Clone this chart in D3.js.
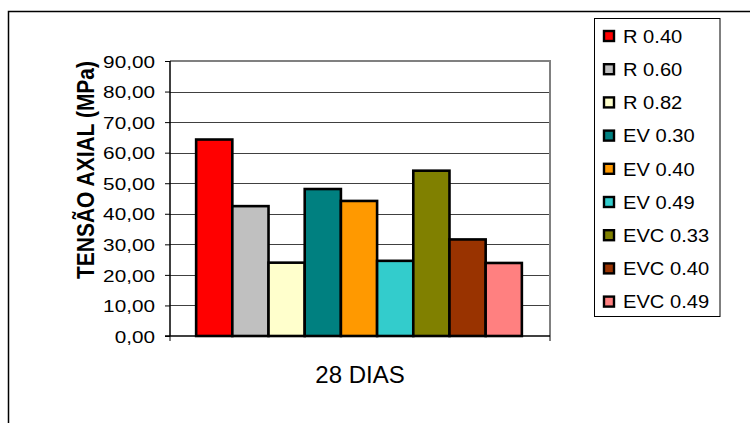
<!DOCTYPE html>
<html><head><meta charset="utf-8">
<script src="https://cdn.jsdelivr.net/npm/d3@7"></script>
<style>html,body{margin:0;padding:0;background:#fff;}svg{display:block;}text{font-family:"Liberation Sans",Arial,sans-serif;}</style>
</head><body>
<svg id="c" width="750" height="423"></svg>
<script>
const categories = ["28 DIAS"];
const seriesNames = ["R 0.40","R 0.60","R 0.82","EV 0.30","EV 0.40","EV 0.49","EVC 0.33","EVC 0.40","EVC 0.49"];
const seriesValues = [64.3, 42.5, 24.0, 48.1, 44.2, 24.6, 54.1, 31.6, 23.9];
const seriesColors = ["#FF0000","#C0C0C0","#FFFFCC","#008080","#FF9900","#33CCCC","#808000","#993300","#FF8080"];
const yTicks = [0,10,20,30,40,50,60,70,80,90];
const yTitle = "TENSÃO AXIAL (MPa)";

const svg = d3.select("#c");
const plot = {l:170, r:550, t:61, b:336};

// outer chart frame (top + left edges visible)
svg.append("path").attr("d","M8.5,423V11.5H750").attr("fill","none").attr("stroke","#000").attr("stroke-width",1.5);

const y = d3.scaleLinear().domain([0,90]).range([plot.b, plot.t]);
const x = d3.scaleBand().domain(categories).range([plot.l, plot.r]).paddingInner(0).paddingOuter(0);
const gapRatio = 1.5;
const groupW = x.bandwidth() * seriesNames.length / (seriesNames.length + gapRatio);
const xs = d3.scaleBand().domain(seriesNames).range([0, groupW]).padding(0);

// gridlines
svg.append("g").selectAll("line").data(yTicks.filter(d=>d>0 && d<90)).join("line")
  .attr("x1",plot.l).attr("x2",plot.r).attr("y1",d=>Math.round(y(d))+0.5).attr("y2",d=>Math.round(y(d))+0.5)
  .attr("stroke","#404040").attr("stroke-width",1);
// plot border top/right (gray)
svg.append("path").attr("d",`M${plot.l},${plot.t}H${plot.r}V${plot.b}`).attr("fill","none").attr("stroke","#808080").attr("stroke-width",2);

// bars
categories.forEach(cat=>{
  const x0 = x(cat) + (x.bandwidth()-groupW)/2 - 1;
  svg.append("g").selectAll("rect").data(seriesValues).join("rect")
    .attr("x",(d,i)=>x0+xs(seriesNames[i]))
    .attr("y",d=>y(d))
    .attr("width",xs.bandwidth())
    .attr("height",d=>y(0)-y(d))
    .attr("fill",(d,i)=>seriesColors[i])
    .attr("stroke","#000").attr("stroke-width",2.6);
});

// y axis
const ya = svg.append("g").attr("transform",`translate(${plot.l},0)`)
  .call(d3.axisLeft(y).tickValues(yTicks).tickSize(5).tickPadding(0).tickFormat(d=>d3.format(".2f")(d).replace(".",",")));
ya.attr("font-family",null);
ya.select(".domain").attr("stroke","#000").attr("stroke-width",1.5).attr("d",`M0,${plot.t}V${plot.b}`);
ya.selectAll(".tick line").attr("stroke","#000");
ya.selectAll(".tick text").attr("font-size",17).attr("fill","#000").attr("text-anchor","end")
  .attr("x",null).attr("dy","0.36em")
  .attr("transform",`translate(-15,0) scale(1.22,1)`);

// x axis
const xa = svg.append("g").attr("transform",`translate(0,${plot.b})`)
  .call(d3.axisBottom(x).tickSize(0).tickPadding(0));
xa.attr("font-family",null);
xa.select(".domain").attr("stroke","#000").attr("stroke-width",1.5).attr("d",`M${plot.l-5},0H${plot.r}`);
xa.selectAll(".tick text").attr("font-size",24).attr("fill","#000").attr("y",0).attr("dy",null)
  .attr("transform","translate(0,47)");
// edge tick marks at category boundaries
svg.append("g").selectAll("line").data([plot.l, plot.r]).join("line")
  .attr("x1",d=>d).attr("x2",d=>d).attr("y1",plot.b).attr("y2",plot.b+5).attr("stroke","#000");

// y title
svg.append("text").attr("transform",`translate(94,170) scale(1.18,1) rotate(-90)`)
  .attr("text-anchor","middle").attr("font-size",21).attr("font-weight","bold").text(yTitle);

// legend
const lg = {x:594.5, y:18.5, w:125.5, h:298, step:33.2, first:36};
svg.append("rect").attr("x",lg.x).attr("y",lg.y).attr("width",lg.w).attr("height",lg.h).attr("fill","#fff").attr("stroke","#000").attr("stroke-width",1);
const items = svg.append("g").selectAll("g").data(seriesNames).join("g")
  .attr("transform",(d,i)=>`translate(0,${lg.first + i*lg.step})`);
items.append("rect").attr("x",604).attr("y",-5).attr("width",10).attr("height",10)
  .attr("fill",(d,i)=>seriesColors[i]).attr("stroke","#000").attr("stroke-width",2.4);
items.append("text").attr("transform",`translate(623,0) scale(1.06,1)`).attr("dy","0.36em").attr("font-size",19).text(d=>d);
</script>
</body></html>
